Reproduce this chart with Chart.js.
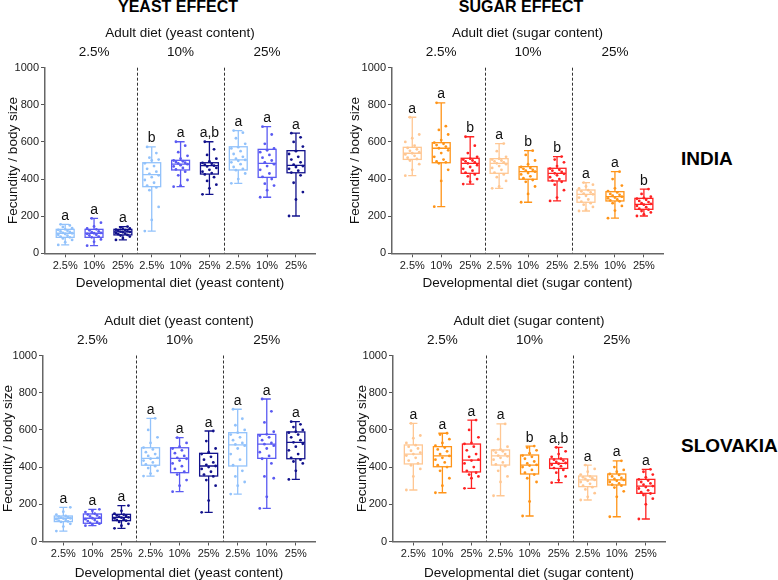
<!DOCTYPE html>
<html>
<head>
<meta charset="utf-8">
<script src="https://cdn.jsdelivr.net/npm/chart.js@4.4.1/dist/chart.umd.min.js"></script>
<style>
  body { margin: 0; width: 778px; height: 580px; background: #fff; position: relative; overflow: hidden;
         font-family: "Liberation Sans", Arial, sans-serif; }
  .panel { position: absolute; }
  .label { position: absolute; font-weight: bold; white-space: nowrap; color: #000; }
</style>
</head>
<body>
<div class="label" style="left:178px;top:-1.5px;font-size:16px;line-height:16px;transform:translateX(-50%)">YEAST EFFECT</div>
<div class="label" style="left:521px;top:-1.5px;font-size:16px;line-height:16px;transform:translateX(-50%)">SUGAR EFFECT</div>
<div class="label" style="left:681px;top:149px;font-size:19px;line-height:19px">INDIA</div>
<div class="label" style="left:681px;top:435.5px;font-size:19px;line-height:19px">SLOVAKIA</div>

<div class="panel" style="left:0;top:20px"><canvas id="indiaYeast" width="340" height="275"></canvas></div>
<div class="panel" style="left:340px;top:20px"><canvas id="indiaSugar" width="340" height="275"></canvas></div>
<div class="panel" style="left:0;top:307px"><canvas id="slovakiaYeast" width="340" height="280"></canvas></div>
<div class="panel" style="left:340px;top:307px"><canvas id="slovakiaSugar" width="340" height="280"></canvas></div>

<script>
// x categories (developmental diet) and adult diet groups
const devLabels = ["2.5%", "10%", "25%", "2.5%", "10%", "25%", "2.5%", "10%", "25%"];
const adultLabels = ["2.5%", "10%", "25%"];

const yeastColors = ["#92c2fb", "#5a5af2", "#12128c"];
const sugarColors = ["#ffc793", "#ff9418", "#ff2222"];

// box stats: [min, q1, median, q3, max]
const indiaYeastStats = [
  [45, 86, 108, 129, 156], [41, 86, 108, 129, 188], [72, 99, 115, 129, 144],
  [120, 359, 424, 488, 573], [359, 449, 480, 501, 601], [318, 427, 472, 488, 601],
  [377, 449, 503, 574, 661], [302, 409, 485, 560, 682], [201, 434, 474, 553, 647]
];
const indiaYeastLetters = ["a", "a", "a", "b", "a", "a,b", "a", "a", "a"];
const indiaYeastPoints = [
  [45, 60, 72, 80, 86, 90, 95, 100, 104, 108, 110, 115, 118, 122, 126, 129, 135, 142, 150, 156],
  [41, 62, 75, 86, 90, 96, 100, 105, 108, 110, 114, 118, 124, 129, 134, 145, 165, 188],
  [72, 82, 90, 96, 99, 103, 106, 110, 113, 115, 117, 119, 122, 125, 127, 129, 134, 140, 144],
  [120, 180, 250, 340, 355, 365, 380, 395, 410, 420, 428, 440, 455, 470, 485, 500, 505, 515, 540, 573],
  [359, 365, 395, 420, 440, 452, 460, 468, 475, 480, 484, 488, 492, 496, 500, 510, 525, 545, 580, 601],
  [318, 350, 370, 390, 410, 425, 432, 440, 450, 460, 468, 472, 477, 482, 487, 495, 510, 530, 560, 601],
  [377, 400, 430, 448, 455, 465, 480, 490, 498, 503, 510, 520, 535, 550, 565, 572, 590, 620, 650, 661],
  [302, 340, 365, 375, 400, 412, 430, 450, 470, 480, 490, 500, 515, 530, 545, 555, 565, 590, 640, 682],
  [201, 290, 330, 380, 420, 435, 445, 455, 465, 470, 478, 490, 505, 520, 535, 550, 575, 600, 625, 647]
];

const indiaSugarStats = [
  [418, 506, 539, 571, 733], [251, 488, 566, 596, 811], [373, 431, 485, 512, 628],
  [350, 431, 485, 510, 591], [275, 399, 440, 467, 553], [282, 390, 431, 458, 521],
  [228, 275, 318, 341, 381], [189, 282, 305, 332, 440], [201, 237, 264, 296, 346]
];
const indiaSugarLetters = ["a", "a", "b", "a", "b", "b", "a", "a", "b"];
const indiaSugarPoints = [
  [418, 450, 480, 500, 508, 515, 525, 533, 539, 545, 552, 560, 568, 580, 600, 620, 640, 733],
  [251, 390, 450, 485, 490, 495, 505, 520, 540, 555, 566, 575, 583, 590, 596, 610, 640, 665, 685, 811],
  [373, 385, 400, 415, 425, 435, 445, 455, 465, 475, 485, 490, 495, 500, 505, 510, 520, 540, 580, 628],
  [350, 360, 390, 410, 425, 435, 450, 460, 470, 480, 485, 490, 495, 500, 505, 510, 520, 550, 591],
  [275, 320, 360, 385, 395, 405, 415, 425, 432, 440, 445, 450, 455, 460, 465, 480, 500, 530, 553],
  [282, 300, 340, 370, 385, 392, 400, 410, 420, 428, 431, 438, 445, 450, 456, 470, 490, 505, 521],
  [228, 235, 250, 262, 270, 278, 290, 300, 310, 318, 322, 328, 334, 340, 350, 360, 370, 381],
  [189, 230, 255, 270, 280, 285, 290, 296, 300, 305, 310, 315, 320, 328, 335, 350, 365, 400, 440],
  [201, 210, 220, 228, 235, 240, 248, 255, 262, 266, 270, 276, 282, 288, 294, 298, 305, 320, 346]
];

const slovakiaYeastStats = [
  [56, 107, 125, 137, 184], [85, 98, 125, 148, 173], [71, 112, 130, 146, 193],
  [352, 410, 447, 504, 662], [268, 370, 447, 504, 558], [157, 352, 406, 474, 594],
  [255, 406, 519, 585, 711], [178, 447, 523, 576, 766], [334, 445, 533, 589, 644]
];
const slovakiaYeastLetters = ["a", "a", "a", "a", "a", "a", "a", "a", "a"];
const slovakiaYeastPoints = [
  [56, 80, 95, 105, 108, 112, 116, 120, 123, 125, 128, 131, 134, 137, 145, 160, 184],
  [85, 90, 96, 100, 105, 110, 115, 120, 125, 130, 135, 140, 145, 150, 158, 165, 173],
  [71, 85, 95, 105, 112, 116, 120, 124, 128, 130, 133, 137, 140, 144, 150, 165, 193],
  [352, 365, 380, 395, 405, 415, 425, 435, 445, 450, 460, 470, 480, 495, 505, 530, 560, 600, 662],
  [268, 300, 330, 360, 375, 390, 405, 420, 435, 445, 450, 460, 475, 490, 500, 510, 530, 558],
  [157, 220, 300, 330, 350, 360, 375, 390, 400, 406, 412, 425, 440, 455, 470, 480, 500, 540, 594],
  [255, 300, 320, 350, 380, 410, 440, 470, 500, 515, 522, 530, 545, 560, 575, 585, 600, 625, 660, 711],
  [178, 240, 340, 350, 420, 445, 460, 480, 500, 515, 523, 530, 545, 560, 570, 576, 590, 640, 700, 766],
  [334, 380, 420, 430, 440, 450, 470, 490, 510, 525, 533, 545, 560, 575, 585, 590, 600, 615, 630, 644]
];

const slovakiaSugarStats = [
  [277, 417, 470, 519, 635], [262, 402, 460, 510, 582], [286, 374, 438, 524, 653],
  [246, 411, 460, 492, 632], [137, 363, 411, 465, 513], [316, 393, 420, 444, 506],
  [223, 295, 331, 352, 411], [133, 304, 331, 363, 434], [121, 259, 298, 334, 388]
];
const slovakiaSugarLetters = ["a", "a", "a", "a", "b", "a,b", "a", "a", "a"];
const slovakiaSugarPoints = [
  [277, 350, 390, 410, 420, 435, 450, 462, 470, 478, 488, 500, 510, 518, 530, 555, 570, 635],
  [262, 300, 340, 380, 400, 410, 425, 440, 450, 460, 470, 485, 495, 505, 515, 530, 550, 575, 582],
  [286, 340, 350, 360, 370, 380, 400, 420, 435, 440, 455, 470, 490, 510, 525, 530, 560, 600, 653],
  [246, 320, 350, 380, 405, 415, 425, 440, 450, 458, 462, 470, 478, 485, 490, 495, 510, 550, 632],
  [137, 215, 320, 340, 360, 370, 385, 400, 408, 412, 420, 430, 445, 455, 462, 475, 490, 505, 513],
  [316, 330, 350, 370, 385, 395, 405, 412, 418, 422, 428, 435, 440, 445, 455, 470, 485, 506],
  [223, 240, 260, 280, 292, 300, 310, 320, 326, 331, 336, 340, 345, 350, 360, 375, 390, 411],
  [133, 240, 270, 290, 300, 305, 312, 320, 326, 331, 336, 342, 350, 358, 363, 375, 385, 400, 434],
  [121, 200, 230, 250, 258, 265, 275, 285, 293, 298, 305, 312, 320, 328, 334, 345, 360, 375, 388]
];

Chart.defaults.font.family = '"Liberation Sans", Arial, sans-serif';

// draws boxes, whiskers, letters, separators and adult-diet headings from the scales
const boxPlotPlugin = {
  id: "boxplot",
  beforeDatasetsDraw(chart, args, opts) {
    const { ctx, chartArea, scales: { x, y } } = chart;
    ctx.save();
    ctx.strokeStyle = "#333";
    ctx.lineWidth = 1;
    ctx.setLineDash([3, 2]);
    [3.5, 6.5].forEach((v) => {
      const px = Math.round(x.getPixelForValue(v)) + 0.5;
      ctx.beginPath();
      ctx.moveTo(px, chartArea.top);
      ctx.lineTo(px, chartArea.bottom);
      ctx.stroke();
    });
    ctx.setLineDash([]);

    const unit = x.getPixelForValue(1) - x.getPixelForValue(0);
    const half = unit * 0.31;
    const cap = unit * 0.14;
    opts.stats.forEach((s, i) => {
      const cx = x.getPixelForValue(i + 1);
      const [mn, q1, md, q3, mx] = s.map((v) => y.getPixelForValue(v));
      ctx.strokeStyle = opts.colors[i % 3];
      ctx.lineWidth = 1.3;
      ctx.strokeRect(cx - half, q3, half * 2, q1 - q3);
      ctx.beginPath();
      ctx.moveTo(cx - half, md); ctx.lineTo(cx + half, md);
      ctx.moveTo(cx, q3); ctx.lineTo(cx, mx);
      ctx.moveTo(cx, q1); ctx.lineTo(cx, mn);
      ctx.moveTo(cx - cap, mx); ctx.lineTo(cx + cap, mx);
      ctx.moveTo(cx - cap, mn); ctx.lineTo(cx + cap, mn);
      ctx.stroke();
      ctx.fillStyle = "#111";
      ctx.font = '14px "Liberation Sans", Arial, sans-serif';
      ctx.textAlign = "center";
      ctx.textBaseline = "alphabetic";
      ctx.fillText(opts.letters[i], cx, mx - 4.5);
    });

    ctx.fillStyle = "#111";
    ctx.font = '13.5px "Liberation Sans", Arial, sans-serif';
    ctx.textAlign = "center";
    ctx.textBaseline = "middle";
    ctx.fillText(opts.adultTitle, (chartArea.left + chartArea.right) / 2, chartArea.top - 34);
    adultLabels.forEach((t, g) => {
      ctx.fillText(t, x.getPixelForValue(g * 3 + 2), chartArea.top - 15);
    });
    ctx.restore();
  }
};

function makePanel(id, cfg) {
  const datasets = cfg.points.map((vals, i) => ({
    data: vals.map((v, k) => ({ x: i + 1 + (((k * 3) % 7) - 3) * 0.08, y: v })),
    backgroundColor: cfg.colors[i % 3],
    pointRadius: 1.4,
    borderWidth: 0
  }));
  const axisGrid = { display: true, drawOnChartArea: false, drawTicks: true, tickLength: 4, color: "#555" };
  const axisBorder = { color: "#666", width: 1.5 };

  return new Chart(document.getElementById(id), {
    type: "scatter",
    data: { datasets },
    options: {
      responsive: false,
      animation: false,
      layout: { padding: { left: 0, top: cfg.padTop, right: cfg.padRight, bottom: 0 } },
      plugins: {
        legend: { display: false },
        tooltip: { enabled: false },
        boxplot: { stats: cfg.stats, letters: cfg.letters, colors: cfg.colors, adultTitle: cfg.adultTitle }
      },
      scales: {
        x: {
          type: "linear",
          min: 0.3,
          max: 9.66,
          afterBuildTicks: (s) => { s.ticks = devLabels.map((_, i) => ({ value: i + 1 })); },
          afterFit: (s) => { s.height = cfg.xHeight; },
          ticks: { autoSkip: false, maxRotation: 0, padding: 2, color: "#222", font: { size: 11 },
                   callback: (v) => devLabels[v - 1] },
          grid: axisGrid,
          border: axisBorder,
          title: { display: true, text: cfg.devTitle, color: "#111", font: { size: 13.5 },
                   padding: { top: 0, bottom: cfg.xTitlePad } }
        },
        y: {
          min: 0,
          max: 1000,
          afterFit: (s) => { s.width = cfg.yWidth; },
          ticks: { stepSize: 200, padding: 2, color: "#222", font: { size: 11 },
                   callback: (v) => String(v) },
          grid: axisGrid,
          border: axisBorder,
          title: { display: true, text: "Fecundity / body size", color: "#111", font: { size: 13.5 },
                   padding: { top: cfg.yTitlePad, bottom: 0 } }
        }
      }
    },
    plugins: [boxPlotPlugin]
  });
}

makePanel("indiaYeast", {
  stats: indiaYeastStats, letters: indiaYeastLetters, points: indiaYeastPoints, colors: yeastColors,
  adultTitle: "Adult diet (yeast content)", devTitle: "Developmental diet (yeast content)",
  padTop: 47.7, padRight: 25, yWidth: 45, xHeight: 41.7, xTitlePad: 3.9, yTitlePad: 4.9
});
makePanel("indiaSugar", {
  stats: indiaSugarStats, letters: indiaSugarLetters, points: indiaSugarPoints, colors: sugarColors,
  adultTitle: "Adult diet (sugar content)", devTitle: "Developmental diet (sugar content)",
  padTop: 47.7, padRight: 17, yWidth: 52, xHeight: 41.7, xTitlePad: 3.9, yTitlePad: 6.9
});
makePanel("slovakiaYeast", {
  stats: slovakiaYeastStats, letters: slovakiaYeastLetters, points: slovakiaYeastPoints, colors: yeastColors,
  adultTitle: "Adult diet (yeast content)", devTitle: "Developmental diet (yeast content)",
  padTop: 48.5, padRight: 25, yWidth: 43, xHeight: 45.5, xTitlePad: 5.9, yTitlePad: 0
});
makePanel("slovakiaSugar", {
  stats: slovakiaSugarStats, letters: slovakiaSugarLetters, points: slovakiaSugarPoints, colors: sugarColors,
  adultTitle: "Adult diet (sugar content)", devTitle: "Developmental diet (sugar content)",
  padTop: 48.5, padRight: 15, yWidth: 53, xHeight: 45.5, xTitlePad: 5.9, yTitlePad: 14.4
});
</script>
</body>
</html>
